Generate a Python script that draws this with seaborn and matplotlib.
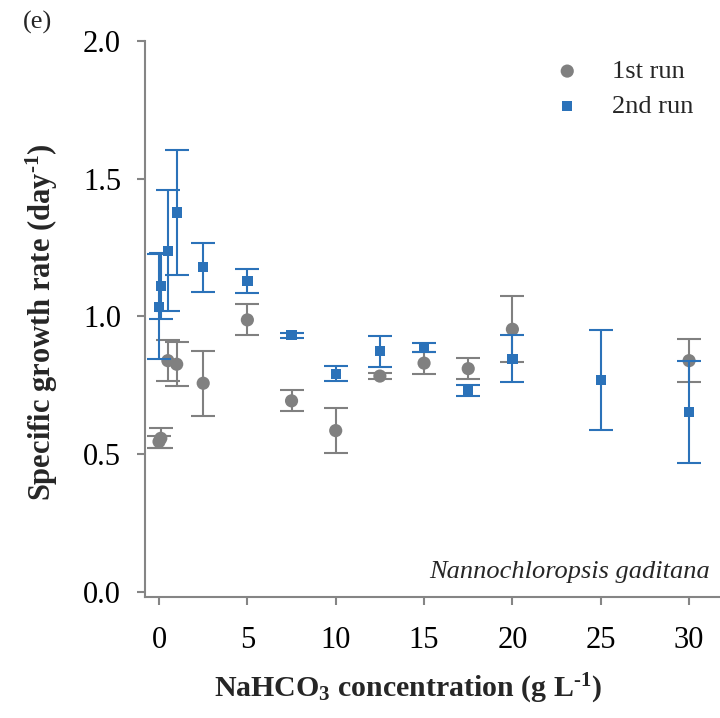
import matplotlib
matplotlib.use("Agg")
import matplotlib.pyplot as plt
import seaborn as sns
import pandas as pd

# ---- data ----
conc_run1 = [0, 0.1, 0.5, 1, 2.5, 5, 7.5, 10, 12.5, 15, 17.5, 20, 30]
rate_run1 = [0.545, 0.557, 0.839, 0.826, 0.757, 0.987, 0.693, 0.585, 0.783, 0.830, 0.810, 0.953, 0.839]
err_run1 = [0.022, 0.037, 0.075, 0.080, 0.118, 0.056, 0.038, 0.083, 0.012, 0.040, 0.038, 0.120, 0.077]

conc_run2 = [0, 0.1, 0.5, 1, 2.5, 5, 7.5, 10, 12.5, 15, 17.5, 20, 25, 30]
rate_run2 = [1.035, 1.111, 1.238, 1.377, 1.178, 1.129, 0.931, 0.791, 0.873, 0.886, 0.730, 0.846, 0.769, 0.653]
err_run2 = [0.190, 0.120, 0.220, 0.228, 0.090, 0.043, 0.010, 0.027, 0.056, 0.016, 0.019, 0.086, 0.182, 0.184]

x_ticks = [0, 5, 10, 15, 20, 25, 30]
y_ticks = [0.0, 0.5, 1.0, 1.5, 2.0]
series_labels = ["1st run", "2nd run"]

GRAY = "#808080"
BLUE = "#2b72b9"
SPINE = "#858585"

sns.set_theme(style="ticks")
plt.rcParams["font.family"] = ["Liberation Serif", "DejaVu Serif"]
plt.rcParams["mathtext.fontset"] = "custom"
plt.rcParams["mathtext.rm"] = "Liberation Serif:bold"
plt.rcParams["mathtext.bf"] = "Liberation Serif:bold"
plt.rcParams["mathtext.it"] = "Liberation Serif:italic"

df1 = pd.DataFrame({"conc": conc_run1, "rate": rate_run1, "err": err_run1})
df2 = pd.DataFrame({"conc": conc_run2, "rate": rate_run2, "err": err_run2})

fig = plt.figure(figsize=(7.2, 7.18), dpi=100)
ax = fig.add_axes([0.201, 0.169, 0.799, 0.774])

# run 1
ax.errorbar(df1["conc"], df1["rate"], yerr=df1["err"], fmt="none",
            ecolor=GRAY, elinewidth=1.5, capsize=8.5, capthick=1.5, zorder=2)
sns.scatterplot(data=df1, x="conc", y="rate", ax=ax, color=GRAY, marker="o",
                s=90, edgecolor="none", linewidth=0, label=series_labels[0], zorder=3)
# run 2
ax.errorbar(df2["conc"], df2["rate"], yerr=df2["err"], fmt="none",
            ecolor=BLUE, elinewidth=1.5, capsize=8.5, capthick=1.5, zorder=4)
sns.scatterplot(data=df2, x="conc", y="rate", ax=ax, color=BLUE, marker="s",
                s=55, edgecolor="none", linewidth=0, label=series_labels[1], zorder=5)

ax.set_xlim(-0.81, 31.75)
ax.set_ylim(-0.018, 2.0)
ax.set_xticks(x_ticks)
ax.set_xticklabels([str(t) for t in x_ticks])
ax.set_yticks(y_ticks)
ax.set_yticklabels([f"{t:.1f}" for t in y_ticks])

for s in ["top", "right"]:
    ax.spines[s].set_visible(False)
for s in ["left", "bottom"]:
    ax.spines[s].set_color(SPINE)
    ax.spines[s].set_linewidth(1.5)

ax.tick_params(axis="both", direction="out", length=6, width=1.5, color=SPINE,
               labelsize=22, labelcolor="black")
ax.tick_params(axis="y", pad=11)
ax.tick_params(axis="x", pad=15)

ax.set_xlabel(r"NaHCO$_\mathbf{3}$ concentration (g L$^{\text{-}1}$)",
              fontsize=21.5, fontweight="bold")
ax.set_ylabel(r"Specific growth rate (day$^{\text{-}1}$)",
              fontsize=22, fontweight="bold")
ax.xaxis.set_label_coords(0.458, -0.135)
ax.yaxis.set_label_coords(-0.148, 0.493)

ax.text(0.983, 0.045, "Nannochloropsis gaditana", transform=ax.transAxes,
        ha="right", va="center", fontsize=19, style="italic")
fig.text(38 / 720, 1 - 22 / 718, "(e)", ha="center", va="center", fontsize=19)

leg = ax.legend(loc="upper left", bbox_to_anchor=(0.684, 0.995), frameon=False,
                fontsize=19, handletextpad=1.2, labelspacing=0.44,
                borderaxespad=0.2, handlelength=1.0)

fig.savefig("out.png", dpi=100)
